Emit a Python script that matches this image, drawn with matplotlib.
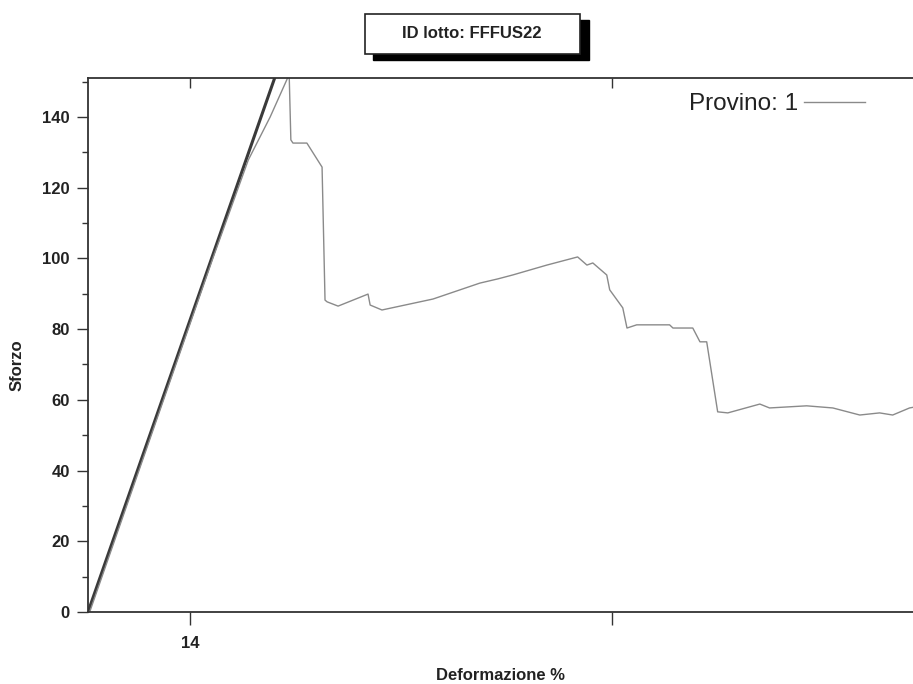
import matplotlib
matplotlib.use("Agg")
import matplotlib.pyplot as plt
from matplotlib.patches import Rectangle
from matplotlib.ticker import FixedLocator, MultipleLocator

plt.rcParams['font.family'] = ['Liberation Sans', 'DejaVu Sans']

# Data: Provino 1 (deformation %, stress)
deform = [13.762, 13.908, 14.054, 14.138, 14.19, 14.235, 14.239, 14.244, 14.277, 14.313,
          14.320, 14.325, 14.351, 14.422, 14.427, 14.455, 14.576, 14.687, 14.73, 14.765,
          14.846, 14.919, 14.941, 14.955, 14.988, 14.995, 15.026, 15.036, 15.059, 15.137,
          15.145, 15.192, 15.209, 15.225, 15.251, 15.275, 15.351, 15.374, 15.462, 15.524,
          15.588, 15.635, 15.666, 15.706, 15.72]
stress = [0.0, 50.0, 100.0, 127.8, 140.0, 152.0, 133.5, 132.6, 132.6, 125.8,
          88.2, 87.7, 86.5, 89.9, 86.8, 85.4, 88.5, 93.0, 94.2, 95.3,
          98.1, 100.4, 98.1, 98.7, 95.3, 91.1, 86.0, 80.3, 81.2, 81.2,
          80.3, 80.3, 76.4, 76.4, 56.6, 56.3, 58.8, 57.7, 58.3, 57.7,
          55.7, 56.3, 55.7, 57.7, 58.0]

# Modulus (fit) line
fit_deform = [13.758, 14.227]
fit_stress = [0.0, 160.0]

x_ticks = [14, 15]
x_tick_labels = ['14', '']
y_ticks = [0, 20, 40, 60, 80, 100, 120, 140]

fig = plt.figure(figsize=(9.13, 6.84), dpi=100)
ax = fig.add_axes([88/913, (684-612)/684, 1.0 - 88/913 + 0.01, (612-78)/684])

ax.plot(fit_deform, fit_stress, color='#3a3a3a', lw=2.2, solid_capstyle='butt')
ax.plot(deform, stress, color='#8a8a8a', lw=1.0, label='Provino: 1')

ax.set_xlim(13.758, 15.713 + 0.0105 * (15.713 - 13.758) / 0.9)
ax.set_ylim(0, 151)

ax.spines['right'].set_visible(False)
for s in ['left', 'bottom', 'top']:
    ax.spines[s].set_color('#333333')
    ax.spines[s].set_linewidth(1.3)

ax.xaxis.set_major_locator(FixedLocator(x_ticks))
ax.set_xticklabels(x_tick_labels)
ax.yaxis.set_major_locator(FixedLocator(y_ticks))
ax.yaxis.set_minor_locator(MultipleLocator(10))
ax.tick_params(axis='y', which='major', direction='out', length=8, width=1, colors='#333333',
               labelsize=12, pad=5)
ax.tick_params(axis='y', which='minor', direction='out', length=4.5, width=1, colors='#333333')
ax.tick_params(axis='x', which='major', direction='out', length=9, width=1, colors='#333333',
               labelsize=12, pad=8)
for lab in ax.get_xticklabels() + ax.get_yticklabels():
    lab.set_fontweight('bold')
    lab.set_color('#222222')

# inward ticks on the top spine
top = ax.secondary_xaxis('top')
top.xaxis.set_major_locator(FixedLocator(x_ticks))
top.tick_params(direction='in', length=7, width=1, colors='#333333', labeltop=False)
top.spines['top'].set_visible(False)

ax.set_ylabel('Sforzo', fontsize=12, fontweight='bold', color='#222222')
ax.yaxis.set_label_coords(-0.076, 0.4625)
ax.set_xlabel('Deformazione %', fontsize=12, fontweight='bold', color='#222222')
ax.xaxis.set_label_coords(0.495, -0.104)

leg = ax.legend(loc='center right', bbox_to_anchor=(865/913, 1 - 104/684),
                bbox_transform=fig.transFigure, frameon=False, borderpad=0,
                borderaxespad=0, markerfirst=False, handlelength=2.5,
                handletextpad=0.25, fontsize=17.5)
for t in leg.get_texts():
    t.set_color('#222222')

# Title box with drop shadow
shadow = Rectangle((373/913, 1 - 60/684), 216/913, 40/684, transform=fig.transFigure,
                   facecolor='black', edgecolor='black', zorder=1)
box = Rectangle((365/913, 1 - 54/684), 215/913, 40/684, transform=fig.transFigure,
                facecolor='white', edgecolor='#222222', lw=1.2, zorder=2)
fig.patches.extend([shadow, box])
fig.text(472/913, 1 - 34/684, 'ID lotto: FFFUS22', ha='center', va='center', fontsize=12,
         fontweight='bold', color='#222222', zorder=3)

fig.savefig('out.png', dpi=100)
